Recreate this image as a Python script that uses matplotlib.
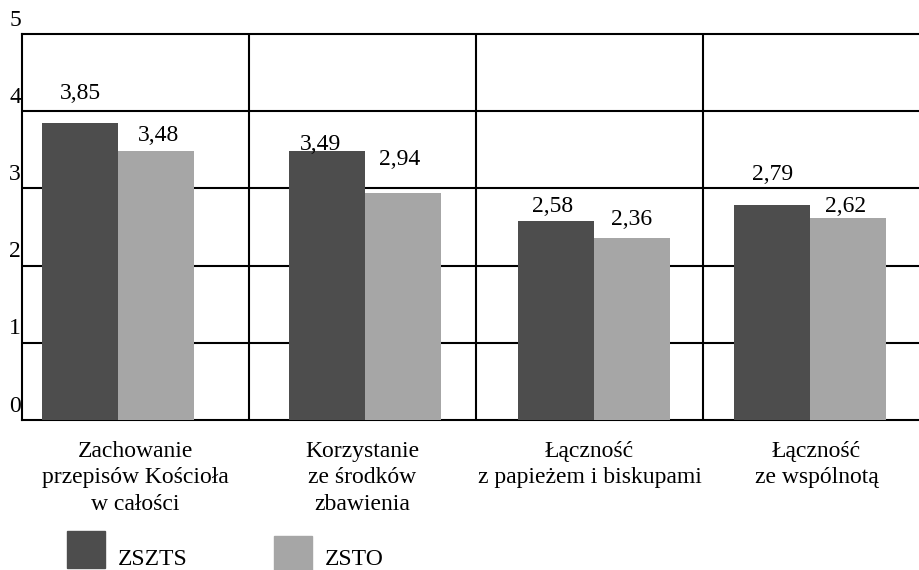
import matplotlib
matplotlib.use("Agg")
import matplotlib.pyplot as plt
from matplotlib.patches import Rectangle
import matplotlib.transforms as mtrans

categories = ["Zachowanie\nprzepisów Kościoła\nw całości",
              "Korzystanie\nze środków\nzbawienia",
              "Łączność\nz papieżem i biskupami",
              "Łączność\nze wspólnotą"]
series_names = ["ZSZTS", "ZSTO"]
zszts = [3.85, 3.49, 2.58, 2.79]
zsto = [3.48, 2.94, 2.36, 2.62]
y_ticks = [0, 1, 2, 3, 4, 5]

# layout (not data)
group_shift = [-0.077, 0.011, 0.020, -0.028]
label_y_offset_dark = [0.31, 0.01, 0.11, 0.32]
label_y_offset_light = [0.13, 0.36, 0.17, 0.07]
label_x_shift_dark = [0.0, -0.03, -0.017, 0.003]
label_x_shift_light = [0.013, -0.014, -0.004, -0.01]

DARK = "#4d4d4d"
LIGHT = "#a6a6a6"
FONT = "Liberation Serif"
FS = 17

W, H = 920, 570
fig = plt.figure(figsize=(W / 100, H / 100), dpi=100)
ax_left, ax_right, ax_bottom, ax_top = 22, 920, 420, 34
ax = fig.add_axes([ax_left / W, (H - ax_bottom) / H,
                   (ax_right - ax_left) / W, (ax_bottom - ax_top) / H])
slot = 227.0
ax.set_xlim(0, (ax_right - ax_left) / slot)
ax.set_ylim(0, 5)

bw = 0.335
for i in range(len(categories)):
    c = i + 0.5 + group_shift[i]
    ax.bar(c - bw / 2, zszts[i], width=bw, color=DARK, zorder=3)
    ax.bar(c + bw / 2, zsto[i], width=bw, color=LIGHT, zorder=3)
    ax.text(c - bw / 2 + label_x_shift_dark[i], zszts[i] + label_y_offset_dark[i],
            f"{zszts[i]:.2f}".replace(".", ","), ha="center", va="baseline",
            fontsize=FS, family=FONT, zorder=4)
    ax.text(c + bw / 2 + label_x_shift_light[i], zsto[i] + label_y_offset_light[i],
            f"{zsto[i]:.2f}".replace(".", ","), ha="center", va="baseline",
            fontsize=FS, family=FONT, zorder=4)

# grid
for y in y_ticks[1:-1]:
    ax.axhline(y, color="black", lw=1.5, zorder=1)
for x in range(1, len(categories)):
    ax.axvline(x, color="black", lw=1.5, zorder=1)

for s in ["left", "bottom", "top"]:
    ax.spines[s].set_linewidth(1.5)
    ax.spines[s].set_color("black")
ax.spines["right"].set_visible(False)
ax.set_xticks([])
ax.set_yticks([])

# y tick labels placed above-left of gridlines
for y in y_ticks:
    tr = mtrans.offset_copy(ax.transData, fig=fig, x=-1, y=14, units="dots")
    ax.text(0, y, str(y), transform=tr, ha="right", va="center",
            fontsize=FS, family=FONT, clip_on=False)

# category labels
for i, lab in enumerate(categories):
    tr = mtrans.offset_copy(ax.transData, fig=fig, x=0, y=-21, units="dots")
    ax.text(i + 0.5, 0, lab, transform=tr, ha="center", va="top",
            fontsize=FS, family=FONT, linespacing=1.33, multialignment="center",
            clip_on=False)

# legend (manual)
def fig_rect(x0, y0, x1, y1, color):
    fig.patches.append(Rectangle((x0 / W, (H - y1) / H), (x1 - x0) / W, (y1 - y0) / H,
                                 transform=fig.transFigure, color=color, figure=fig))

fig_rect(67, 531, 105, 568, DARK)
fig.text(118 / W, (H - 565) / H, series_names[0], ha="left", va="baseline",
         fontsize=FS, family=FONT)
fig_rect(274, 536, 312, 572, LIGHT)
fig.text(325 / W, (H - 565) / H, series_names[1], ha="left", va="baseline",
         fontsize=FS, family=FONT)

fig.savefig("out.png", dpi=100)
